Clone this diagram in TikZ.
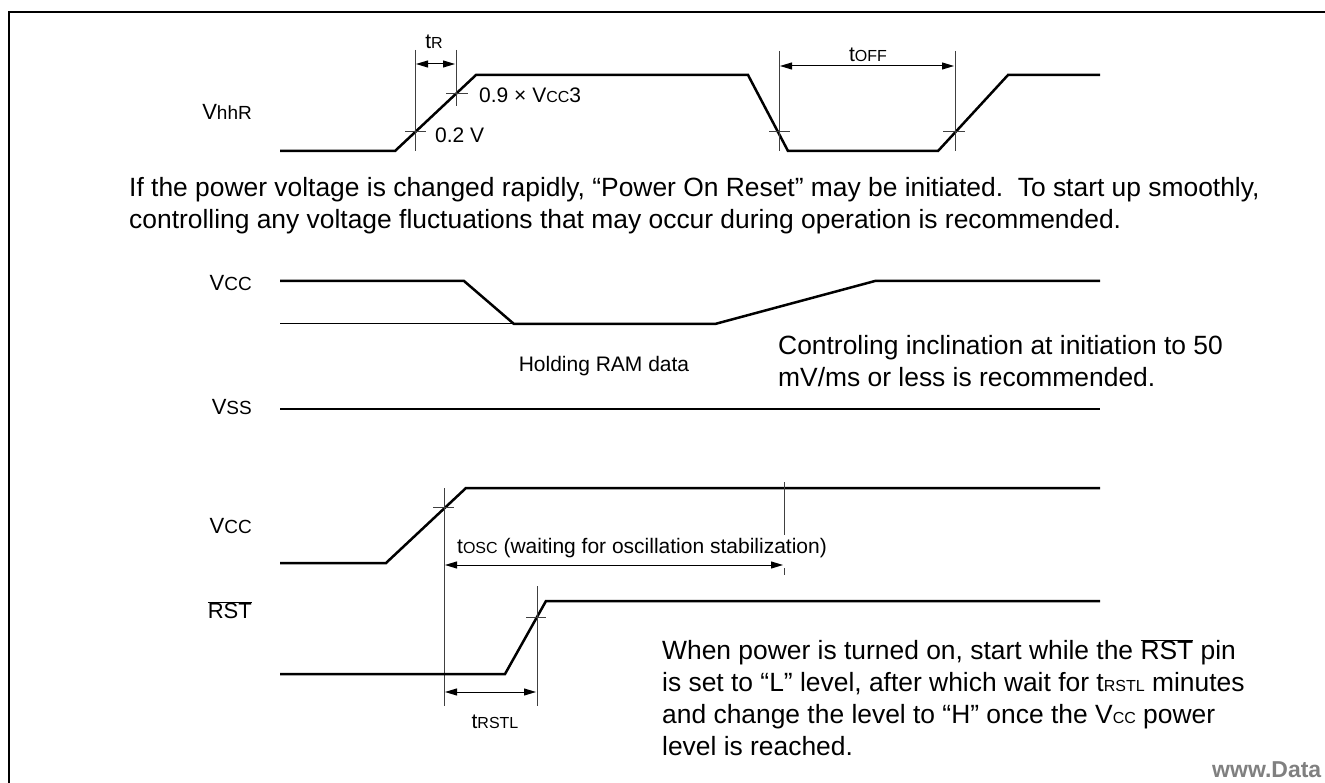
\documentclass[tikz,border=0pt]{standalone}
\usepackage{fontspec}
\setmainfont{Liberation Sans}
\usetikzlibrary{arrows.meta}
\newcommand{\sm}[1]{{\fontsize{16}{16}\selectfont #1}}
\newcommand{\smv}[1]{{\fontsize{19}{19}\selectfont #1}}
\tikzset{
  wave/.style={line width=2.5pt, line join=miter},
  guide/.style={line width=1pt, black!75},
  dim/.style={line width=1pt, {Triangle[length=12pt,width=7pt]}-{Triangle[length=12pt,width=7pt]}},
  lbl/.style={font=\fontsize{21}{21}\selectfont, inner sep=0pt},
  sig/.style={font=\fontsize{22}{22}\selectfont, inner sep=0pt, anchor=east},
  body/.style={font=\fontsize{26.4}{32}\selectfont, inner sep=0pt, align=left, anchor=north west}
}
\begin{document}
\begin{tikzpicture}[x=1pt, y=-1pt]
  \useasboundingbox (0,0) rectangle (1325,783);
  % Outer frame (top and left only)
  \draw[line width=2.4pt] (9,783) -- (9,12) -- (1325,12);
  % VhhR waveform
  \node[sig] (vhhr) at (252,112) {V\smv{hhR}};
  \draw[wave] (280,151) -- (395,151) -- (476,75) -- (748,75) -- (788,151) -- (938,151) -- (1008,75) -- (1100,75);
  % Rise and off time marks
  \draw[guide] (415,50) -- (415,151);
  \draw[guide] (456,50) -- (456,106);
  \draw[guide] (405,132) -- (426,132);
  \draw[guide] (446,94) -- (468,94);
  \draw[guide] (779,51) -- (779,151);
  \draw[guide] (955,51) -- (955,151);
  \draw[guide] (769,132) -- (790,132);
  \draw[guide] (943,132) -- (965,132);
  \draw[dim] (416,64) -- (455,64);
  \draw[dim] (780,66) -- (954,66);
  \node[lbl] (tr) at (434,42) {t\sm{R}};
  \node[lbl] (toff) at (868,55) {t\sm{OFF}};
  \node[lbl, anchor=west] (v09) at (479,95) {0.9 × V\sm{CC}3};
  \node[lbl, anchor=west] (v02) at (435,135) {0.2 V};
  % Note under the first waveform
  \node[body] (note1) at (129,177) {If the power voltage is changed rapidly, “Power On Reset” may be initiated.\ \ To start up smoothly,\\controlling any voltage fluctuations that may occur during operation is recommended.};
  % Vcc droop
  \node[sig] (vcc1) at (252,283) {V\smv{CC}};
  \draw[wave] (280,281) -- (464,281) -- (514,324) -- (715,324) -- (875,281) -- (1100,281);
  \draw[line width=1pt] (280,324) -- (514,324);
  \node[lbl] (hold) at (604,366) {Holding RAM data};
  \node[body] (note2) at (778,335) {Controling inclination at initiation to 50\\mV/ms or less is recommended.};
  % Vss
  \node[sig] (vss) at (252,407) {V\smv{SS}};
  \draw[wave] (280,409) -- (1100,409);
  % Vcc start up
  \node[sig] (vcc2) at (252,526) {V\smv{CC}};
  \draw[wave] (280,563) -- (386,563) -- (466,488) -- (1100,488);
  \draw[guide] (444,488) -- (444,706);
  \draw[guide] (433,507) -- (454,507);
  \draw[guide] (784,482) -- (784,535);
  \draw[guide] (784,568) -- (784,575);
  \draw[dim] (445,565) -- (783,565);
  \node[lbl, anchor=west] (tosc) at (457,548) {t\sm{OSC} (waiting for oscillation stabilization)};
  % RST
  \node[sig] (rst) at (252,610) {$\overline{\mbox{RST}}$};
  \draw[wave] (280,674) -- (505,674) -- (546,601) -- (1100,601);
  \draw[guide] (537,586) -- (537,706);
  \draw[guide] (526,617) -- (546,617);
  \draw[dim] (445,692) -- (536,692);
  \node[lbl] (trstl) at (495,722) {t\sm{RSTL}};
  \node[body] (note3) at (662,639) {When power is turned on, start while the $\overline{\mbox{RST}}$ pin\\is set to “L” level, after which wait for t\sm{RSTL} minutes\\and change the level to “H” once the V\sm{CC} power\\level is reached.};
  % Watermark
  \node[font=\fontsize{23}{23}\selectfont\bfseries, gray, anchor=west, inner sep=0pt] (mark) at (1212,770) {www.Data};
\end{tikzpicture}
\end{document}
